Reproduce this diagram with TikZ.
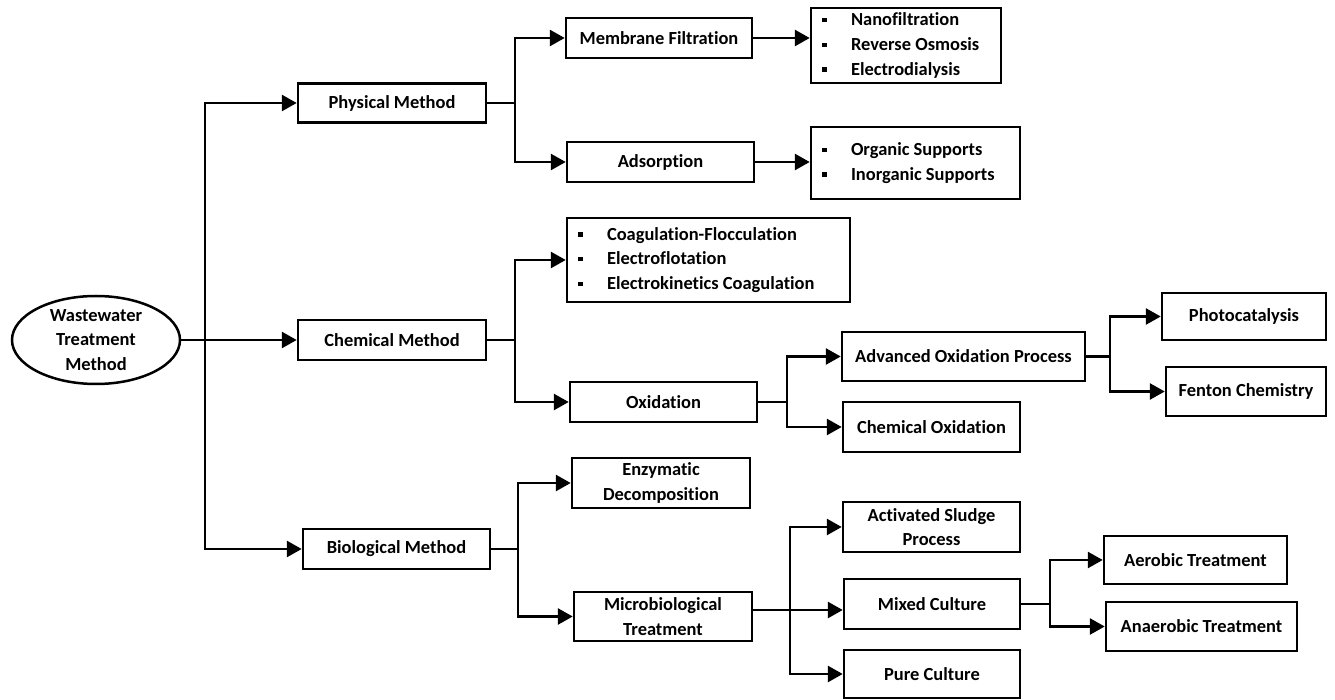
\documentclass[tikz,border=0pt]{standalone}
\usepackage{fontspec}
\setmainfont{Carlito}[Ligatures=CommonOff]
\usetikzlibrary{arrows.meta,shapes.geometric}

\tikzset{
    methodbox/.style={draw, line width=0.050000cm, align=center, inner sep=0.000000cm,
        font=\bfseries\fontsize{10.5pt}{14pt}\selectfont},
    listbox/.style={methodbox, align=flush left, inner xsep=0.220000cm},
    rootnode/.style={methodbox, ellipse},
    branchline/.style={line width=0.056000cm},
    brancharrow/.style={branchline, -{Triangle[length=0.300000cm,width=0.320000cm]}},
}
\newcommand{\sqmark}{\makebox[0.580000cm][l]{\rule[0.070000cm]{0.090000cm}{0.090000cm}}}

\begin{document}
\begin{tikzpicture}
            \useasboundingbox (0,0) rectangle (26.700000,14.000000);
            
            % Marking the root by ellipse
            \node [rootnode, minimum width=3.360000cm, minimum height=1.760000cm] (root) at (1.920000,7.200000) {Wastewater\\Treatment\\Method};%
            
            % Marking the three methods
            \node [methodbox, minimum width=3.760000cm, minimum height=0.780000cm] (phys) at (7.840000,11.940000) {Physical Method};%
            \node [methodbox, minimum width=3.760000cm, minimum height=0.800000cm] (chem) at (7.840000,7.200000) {Chemical Method};%
            \node [methodbox, minimum width=3.740000cm, minimum height=0.800000cm] (bio) at (7.930000,3.020000) {Biological Method};%
            
            % Marking the physical branch
            \node [methodbox, minimum width=3.720000cm, minimum height=0.800000cm] (memb) at (13.180000,13.240000) {Membrane Filtration};%
            \node [methodbox, minimum width=3.740000cm, minimum height=0.800000cm] (adsorp) at (13.210000,10.760000) {Adsorption};%
            \node [listbox, text width=3.360000cm, minimum height=1.500000cm] (membl) at (18.120000,13.090000) {\sqmark Nanofiltration\\\sqmark Reverse Osmosis\\\sqmark Electrodialysis};%
            \node [listbox, text width=3.740000cm, minimum height=1.440000cm] (adsorpl) at (18.310000,10.740000) {\sqmark Organic Supports\\\sqmark Inorganic Supports};%
            
            % Marking the chemical branch
            \node [listbox, text width=5.220000cm, minimum height=1.680000cm] (coag) at (14.170000,8.800000) {\sqmark Coagulation-Flocculation\\\sqmark Electroflotation\\\sqmark Electrokinetics Coagulation};%
            \node [methodbox, minimum width=3.740000cm, minimum height=0.800000cm] (oxid) at (13.270000,5.960000) {Oxidation};%
            \node [methodbox, minimum width=4.860000cm, minimum height=0.980000cm] (aop) at (19.270000,6.870000) {Advanced Oxidation Process};%
            \node [methodbox, minimum width=3.540000cm, minimum height=1.000000cm] (chemox) at (18.630000,5.460000) {Chemical Oxidation};%
            \node [methodbox, minimum width=3.280000cm, minimum height=0.940000cm] (photo) at (24.880000,7.670000) {Photocatalysis};%
            \node [methodbox, minimum width=3.200000cm, minimum height=0.980000cm] (fenton) at (24.920000,6.170000) {Fenton Chemistry};%
            
            % Marking the biological branch
            \node [methodbox, minimum width=3.560000cm, minimum height=1.000000cm] (enzym) at (13.220000,4.340000) {Enzymatic\\Decomposition};%
            \node [methodbox, minimum width=3.560000cm, minimum height=0.980000cm] (micro) at (13.260000,1.670000) {Microbiological\\Treatment};%
            \node [methodbox, minimum width=3.540000cm, minimum height=1.000000cm] (sludge) at (18.630000,3.460000) {Activated Sludge\\Process};%
            \node [methodbox, minimum width=3.520000cm, minimum height=1.000000cm] (mixed) at (18.640000,1.920000) {Mixed Culture};%
            \node [methodbox, minimum width=3.520000cm, minimum height=0.960000cm] (pure) at (18.640000,0.520000) {Pure Culture};%
            \node [methodbox, minimum width=3.660000cm, minimum height=0.960000cm] (aerob) at (23.910000,2.800000) {Aerobic Treatment};%
            \node [methodbox, minimum width=3.820000cm, minimum height=0.980000cm] (anaerob) at (24.030000,1.470000) {Anaerobic Treatment};%
            
            % Drawing lines from the root
            \coordinate (jroot) at (4.100000,7.200000);%
            \draw [brancharrow] (root.east) -- (chem.west);%
            \draw [brancharrow] (jroot) |- (phys.west);%
            \draw [brancharrow] (jroot) |- (bio.west);%
            
            % Drawing lines from physical method
            \coordinate (jphys) at (10.300000,11.940000);%
            \draw [branchline] (phys.east) -- (jphys);%
            \draw [brancharrow] (jphys) |- (memb.west);%
            \draw [brancharrow] (jphys) |- (adsorp.west);%
            \draw [brancharrow] (memb.east) -- (memb.east -| membl.west);%
            \draw [brancharrow] (adsorp.east) -- (adsorp.east -| adsorpl.west);%
            
            % Drawing lines from chemical method
            \coordinate (jchem) at (10.300000,7.200000);%
            \draw [branchline] (chem.east) -- (jchem);%
            \draw [brancharrow] (jchem) |- (coag.west);%
            \draw [brancharrow] (jchem) |- (oxid.west);%
            \coordinate (joxid) at (15.740000,5.960000);%
            \draw [branchline] (oxid.east) -- (joxid);%
            \draw [brancharrow] (joxid) |- (aop.west);%
            \draw [brancharrow] (joxid) |- (chemox.west);%
            \coordinate (jaop) at (22.200000,6.870000);%
            \draw [branchline] (aop.east) -- (jaop);%
            \draw [brancharrow] (jaop) |- (photo.west);%
            \draw [brancharrow] (jaop) |- (fenton.west);%
            
            % Drawing lines from biological method
            \coordinate (jbio) at (10.360000,3.020000);%
            \draw [branchline] (bio.east) -- (jbio);%
            \draw [brancharrow] (jbio) |- (enzym.west);%
            \draw [brancharrow] (jbio) |- (micro.west);%
            \coordinate (jmicro) at (15.800000,1.800000);%
            \draw [brancharrow] (micro.east |- jmicro) -- (mixed.west |- jmicro);%
            \draw [brancharrow] (jmicro) |- (sludge.west);%
            \draw [brancharrow] (jmicro) |- (pure.west);%
            \coordinate (jmixed) at (21.000000,1.920000);%
            \draw [branchline] (mixed.east) -- (jmixed);%
            \draw [brancharrow] (jmixed) |- (aerob.west);%
            \draw [brancharrow] (jmixed) |- (anaerob.west);%
        \end{tikzpicture}
\end{document}
